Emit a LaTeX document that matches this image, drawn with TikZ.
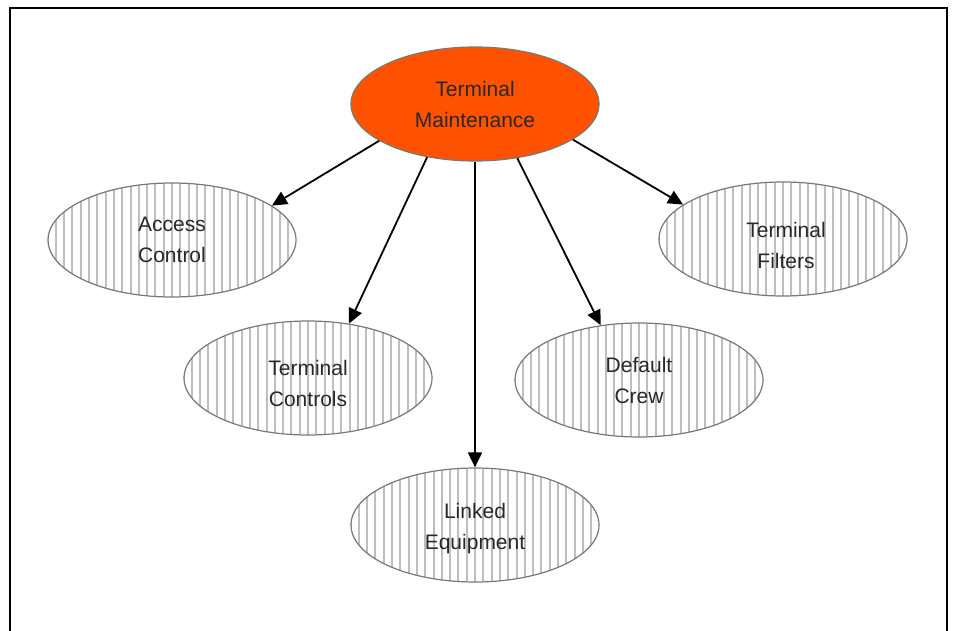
\documentclass[tikz,border=0pt]{standalone}
\usepackage{fontspec}
\setmainfont{Liberation Sans}
\usetikzlibrary{shapes.geometric,arrows.meta}
\definecolor{hotorange}{RGB}{255,82,0}
\definecolor{stripegray}{RGB}{190,190,190}
\definecolor{rimgray}{RGB}{120,120,120}
\definecolor{inkgray}{RGB}{40,40,40}
\tikzset{
  caption/.style={align=center, inner sep=0pt,
    font=\fontsize{21}{31}\selectfont, text=inkgray},
  bubble/.style={ellipse, draw=rimgray, line width=1.2pt, inner sep=0pt,
    minimum width=248pt, minimum height=114pt},
  hub/.style={bubble, caption, fill=hotorange},
  striped/.style={bubble, fill=white,
    path picture={
      \foreach \k in {-16,...,16}
        \draw[stripegray, line width=2pt]
          ([xshift=\k*8.3pt]path picture bounding box.north)
          -- ([xshift=\k*8.3pt]path picture bounding box.south);
    }},
  link/.style={line width=1.8pt, -{Triangle[length=15pt,width=14pt]}}
}
\begin{document}
\begin{tikzpicture}[x=1pt, y=-1pt]
  \useasboundingbox (0,0) rectangle (955,631);
  % open frame around the chart
  \draw[line width=2pt] (10,640) -- (10,8) -- (947,8) -- (947,640);

  \node[hub] (tm) at (475,104) {Terminal\\Maintenance};
  \node[striped, label={[caption]center:Access\\Control}] (ac) at (172,240) {};
  \node[striped, label={[caption, xshift=3pt, yshift=-6pt]center:Terminal\\Filters}] (tf) at (783,239) {};
  \node[striped, label={[caption, yshift=-5pt]center:Terminal\\Controls}] (tc) at (308,378) {};
  \node[striped, label={[caption]center:Default\\Crew}] (dc) at (639,380) {};
  \node[striped, label={[caption, yshift=-4pt]center:Linked\\Equipment}] (le) at (475,525) {};

  \draw[link] (tm.201) -- (ac.19);
  \draw[link] (tm.228) -- (tc.53);
  \draw[link] (tm.south) -- (le.north);
  \draw[link] (tm.308) -- (dc.125);
  \draw[link] (tm.340) -- (tf.161);
\end{tikzpicture}
\end{document}
